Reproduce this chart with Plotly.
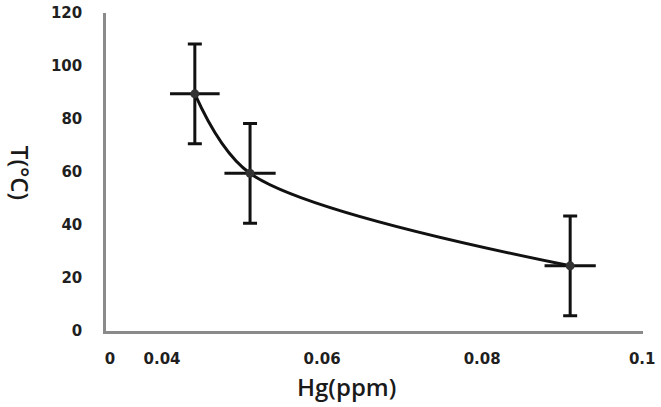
import plotly.graph_objects as go

# Data
hg_ppm = [0.0441, 0.0510, 0.0910]
temp_c = [89.5, 59.5, 24.6]
temp_err = [18.8, 18.8, 18.8]
hg_err = [0.0031, 0.0032, 0.0032]

x_tickvals = [0.0335, 0.04, 0.06, 0.08, 0.1]
x_ticktext = ["0", "0.04", "0.06", "0.08", "0.1"]
y_tickvals = [0, 20, 40, 60, 80, 100, 120]

fig = go.Figure()
fig.add_trace(go.Scatter(
    x=hg_ppm, y=temp_c,
    mode="lines+markers",
    line=dict(color="#111111", width=3, shape="spline", smoothing=0.9),
    marker=dict(color="#333333", size=9),
    error_y=dict(type="data", array=temp_err, color="#111111", thickness=3, width=7),
    error_x=dict(type="data", array=hg_err, color="#111111", thickness=3, width=0),
    showlegend=False,
))

tick_font = dict(family="DejaVu Sans", size=15, color="#1f1f1f", weight="bold")
title_font = dict(family="Open Sans", size=24, color="#1a1a1a", weight=600)

fig.update_layout(
    width=661, height=407,
    margin=dict(l=106, r=18, t=13, b=76),
    paper_bgcolor="white", plot_bgcolor="white",
    xaxis=dict(
        range=[0.033, 0.1001],
        tickvals=x_tickvals, ticktext=x_ticktext,
        showgrid=False, zeroline=False, automargin=False,
        showline=True, linecolor="#8a8a8a", linewidth=2.5,
        ticks="", tickfont=tick_font, ticklabelstandoff=12,
    ),
    yaxis=dict(
        range=[0, 120],
        tickvals=y_tickvals,
        showgrid=False, zeroline=False, automargin=False,
        showline=True, linecolor="#8a8a8a", linewidth=2.5,
        ticks="", tickfont=tick_font, ticklabelstandoff=18,
    ),
    annotations=[
        dict(text="Hg(ppm)", xref="paper", yref="paper", x=0.447, y=-0.173,
             xanchor="center", yanchor="middle", showarrow=False, font=title_font),
        dict(text="T(°C)", xref="paper", yref="paper", x=-0.160, y=0.497,
             xanchor="center", yanchor="middle", showarrow=False, textangle=90,
             font=title_font),
    ],
)

fig.write_html("out.html",
               config={"displayModeBar": False},
               post_script="document.body.style.margin='0';document.body.style.overflow='hidden';")
